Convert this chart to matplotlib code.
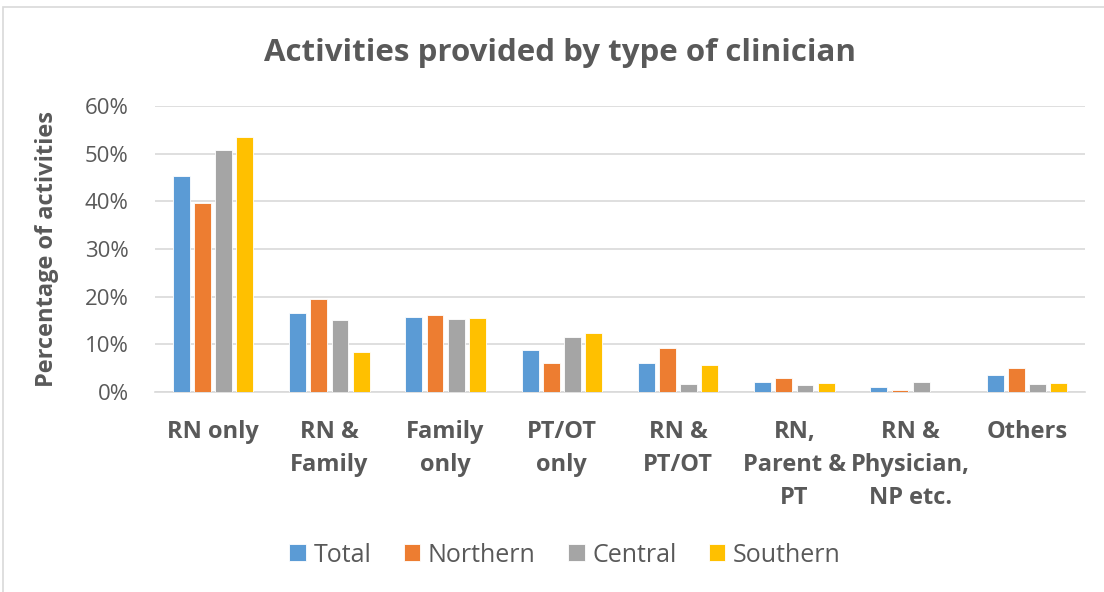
import numpy as np
import matplotlib
matplotlib.use("Agg")
import matplotlib.pyplot as plt
from matplotlib.patches import Rectangle

categories = ["RN only", "RN &\nFamily", "Family\nonly", "PT/OT\nonly", "RN &\nPT/OT",
              "RN,\nParent &\nPT", "RN &\nPhysician,\nNP etc.", "Others"]
total = [45.4, 16.6, 15.8, 8.8, 6.0, 2.2, 1.0, 3.5]
northern = [39.6, 19.6, 16.2, 6.1, 9.3, 3.0, 0.5, 5.0]
central = [50.8, 15.1, 15.3, 11.5, 1.7, 1.4, 2.0, 1.7]
southern = [53.4, 8.4, 15.6, 12.4, 5.7, 1.9, 0.0, 1.9]

series = [("Total", total, "#5B9BD5"), ("Northern", northern, "#ED7D31"),
          ("Central", central, "#A5A5A5"), ("Southern", southern, "#FFC000")]

plt.rcParams['font.family'] = ['Open Sans', 'DejaVu Sans']
txt = "#595959"

fig = plt.figure(figsize=(11.04, 5.92), dpi=100)
ax = fig.add_axes([155/1104, 1 - 392/592, 930/1104, 286/592])

x = np.arange(len(categories))
w = 0.145
step = 0.182
for i, (name, vals, col) in enumerate(series):
    ax.bar(x + (i - 1.5) * step, vals, w, color=col, label=name,
           edgecolor="white", linewidth=0.6, zorder=3)

ax.set_xlim(-0.5, len(categories) - 0.5)
ax.set_ylim(0, 60)
ax.set_yticks(range(0, 61, 10))
ax.set_yticklabels([f"{v}%" for v in range(0, 61, 10)], color=txt, fontsize=16)
ax.set_xticks(x)
ax.set_xticklabels(categories, fontsize=17, fontweight="bold", color=txt,
                   va="top", linespacing=1.5)
ax.tick_params(axis="both", length=0)
ax.tick_params(axis="x", pad=20)
ax.tick_params(axis="y", pad=19)
ax.grid(axis="y", color="#D9D9D9", linewidth=1.2, zorder=0)
for s in ["top", "right", "left"]:
    ax.spines[s].set_visible(False)
ax.spines["bottom"].set_color("#D9D9D9")
ax.spines["bottom"].set_linewidth(1.2)

ax.set_ylabel("Percentage of activities", fontsize=17, fontweight="bold", color=txt)
ax.yaxis.set_label_coords((59 - 155) / 930, 0.5)

fig.text(560/1104, 1 - 53/592, "Activities provided by type of clinician", ha="center",
         va="center", fontsize=22.5, fontweight="bold", color=txt)

fig.legend(loc="center", bbox_to_anchor=(565/1104, 1 - 555/592), ncol=4, frameon=False,
           fontsize=18, labelcolor=txt, handlelength=0.66, handleheight=0.66,
           handletextpad=0.3, columnspacing=1.3)

fig.patches.append(Rectangle((3/1104, -0.01), 1.1, 1 - 7/592 + 0.01, transform=fig.transFigure,
                             fill=False, edgecolor="#D9D9D9", linewidth=1.2))

fig.savefig("out.png", dpi=100)
